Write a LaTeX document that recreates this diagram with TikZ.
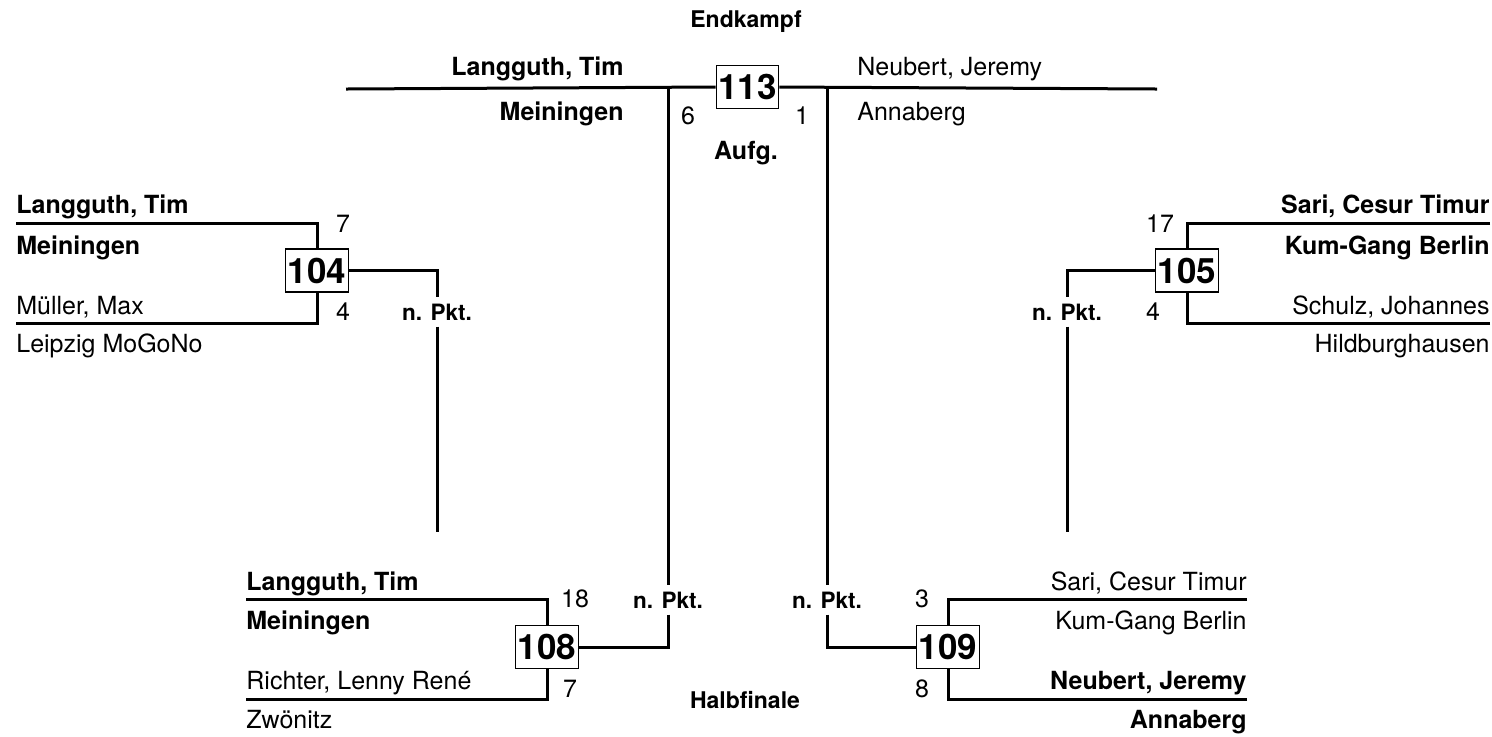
\documentclass[tikz,border=0pt]{standalone}
\usepackage{fontspec}
\setmainfont{TeX Gyre Heros}
\usepackage{tikz}
\usetikzlibrary{positioning}

\begin{document}
\begin{tikzpicture}[x=0.5pt,y=-0.5pt,
    line/.style={line width=1.5pt},
    kampf/.style={rectangle,draw,line width=0.6pt,fill=white,minimum width=31pt,
                  minimum height=21.5pt,inner sep=1pt,font=\fontsize{17.5}{20}\selectfont\bfseries},
    nm/.style={inner sep=0pt,font=\fontsize{12.5}{15}\selectfont},
    nmbf/.style={nm,font=\fontsize{12.5}{15}\selectfont\bfseries},
    pts/.style={inner sep=0pt,anchor=base,font=\fontsize{12.5}{15}\selectfont},
    pkt/.style={inner xsep=2pt,inner ysep=3pt,anchor=base,font=\fontsize{11.25}{13}\selectfont\bfseries},
    titel/.style={inner sep=0pt,anchor=base,font=\fontsize{11.5}{13}\selectfont\bfseries}
]
\useasboundingbox (0,0) rectangle (1492,736);

\node[kampf] (m113) at (747.5,87)  {113};
\node[kampf] (m104) at (317,270.5) {104};
\node[kampf] (m105) at (1187,270.5) {105};
\node[kampf] (m108) at (547,647)   {108};
\node[kampf] (m109) at (948,647)   {109};

\coordinate (t113l) at (346,89);
\coordinate (t113r) at (1157,89);
\coordinate (v108)  at (668,89);
\coordinate (v109)  at (827,89);
\coordinate (a104) at (16,223);
\coordinate (b104) at (16,323);
\coordinate (a105) at (1490,223);
\coordinate (b105) at (1490,323);
\coordinate (a108) at (246,599);
\coordinate (b108) at (246,699);
\coordinate (a109) at (1247,599);
\coordinate (b109) at (1247,699);
\coordinate (e104) at (437,532);
\coordinate (e105) at (1067,532);

\node[titel] (endk) at (746,27)  {Endkampf};
\node[titel,font=\fontsize{12.5}{15}\selectfont\bfseries] (aufg) at (746,159) {Aufg.};
\node[titel] (halb) at (745,708) {Halbfinale};

\node[pkt] (p104) at (437,320)  {n. Pkt.};
\node[pkt] (p105) at (1067,320) {n. Pkt.};
\node[pkt] (p108) at (668,608)  {n. Pkt.};
\node[pkt] (p109) at (827,608)  {n. Pkt.};

\draw[line] (t113l) -- (m113.west);
\draw[line] (m113.east) -- (t113r);
\draw[line] (v108) -- (p108.north);
\draw[line] (p108.south) |- (m108.east);
\draw[line] (v109) -- (p109.north);
\draw[line] (p109.south) |- (m109.west);

\draw[line] (a104) -| (m104.north);
\draw[line] (b104) -| (m104.south);
\draw[line] (m104.east) -| (p104.north);
\draw[line] (p104.south) -- (e104);

\draw[line] (a105) -| (m105.north);
\draw[line] (b105) -| (m105.south);
\draw[line] (m105.west) -| (p105.north);
\draw[line] (p105.south) -- (e105);

\draw[line] (a108) -| (m108.north);
\draw[line] (b108) -| (m108.south);
\draw[line] (a109) -| (m109.north);
\draw[line] (b109) -| (m109.south);

\node[nmbf,anchor=base east] (n113a) at (624,75)  {Langguth, Tim};
\node[nmbf,anchor=base east] (c113a) at (624,120) {Meiningen};
\node[nm,anchor=base west]   (n113b) at (857,75)  {Neubert, Jeremy};
\node[nm,anchor=base west]   (c113b) at (857,120) {Annaberg};
\node[pts] (s113a) at (688,124) {6};
\node[pts] (s113b) at (802,124) {1};

\node[nmbf,anchor=base west] (n104a) at (16,213) {Langguth, Tim};
\node[nmbf,anchor=base west] (c104a) at (16,254) {Meiningen};
\node[nm,anchor=base west]   (n104b) at (16,314) {Müller, Max};
\node[nm,anchor=base west]   (c104b) at (16,352) {Leipzig MoGoNo};
\node[pts] (s104a) at (343,232) {7};
\node[pts] (s104b) at (343,320) {4};

\node[nmbf,anchor=base east] (n105a) at (1490,213) {Sari, Cesur Timur};
\node[nmbf,anchor=base east] (c105a) at (1490,254) {Kum-Gang Berlin};
\node[nm,anchor=base east]   (n105b) at (1490,314) {Schulz, Johannes};
\node[nm,anchor=base east]   (c105b) at (1490,352) {Hildburghausen};
\node[pts] (s105a) at (1160,232) {17};
\node[pts] (s105b) at (1153,320) {4};

\node[nmbf,anchor=base west] (n108a) at (246,590) {Langguth, Tim};
\node[nmbf,anchor=base west] (c108a) at (246,629) {Meiningen};
\node[nm,anchor=base west]   (n108b) at (246,689) {Richter, Lenny René};
\node[nm,anchor=base west]   (c108b) at (246,728) {Zwönitz};
\node[pts] (s108a) at (575,607) {18};
\node[pts] (s108b) at (570,697) {7};

\node[nm,anchor=base east]   (n109a) at (1247,590) {Sari, Cesur Timur};
\node[nm,anchor=base east]   (c109a) at (1247,629) {Kum-Gang Berlin};
\node[nmbf,anchor=base east] (n109b) at (1247,689) {Neubert, Jeremy};
\node[nmbf,anchor=base east] (c109b) at (1247,728) {Annaberg};
\node[pts] (s109a) at (922,607) {3};
\node[pts] (s109b) at (922,697) {8};
\end{tikzpicture}
\end{document}
